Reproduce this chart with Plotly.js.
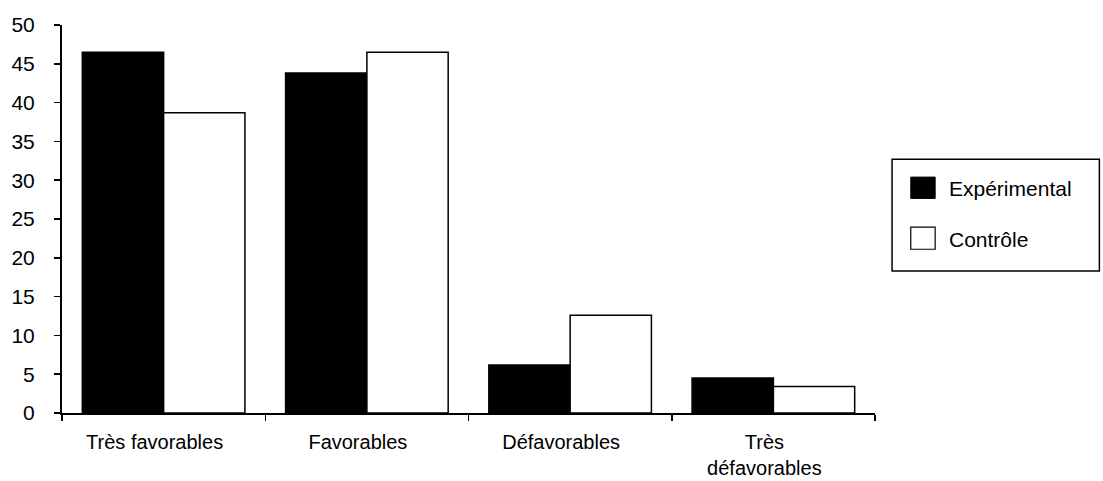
<!DOCTYPE html>
<html>
<head>
<meta charset="utf-8">
<script src="https://cdn.plot.ly/plotly-3.0.1.min.js"></script>
<style>html,body{margin:0;padding:0;background:#fff;}#chart{width:1103px;height:481px;}</style>
</head>
<body>
<div id="chart"></div>
<script>
const categories = ["Très favorables", "Favorables", "Défavorables", "Très<br>défavorables"];
const experimental = [46.5, 43.8, 6.2, 4.5];
const controle = [38.7, 46.5, 12.6, 3.4];
const seriesNames = ["Expérimental", "Contrôle"];
const yTicks = [0, 5, 10, 15, 20, 25, 30, 35, 40, 45, 50];

const FONT = "Liberation Sans, Arial, Helvetica, sans-serif";

const traces = [
  {type: "bar", name: seriesNames[0], x: categories, y: experimental,
   marker: {color: "#000", line: {color: "#000", width: 1.5}}, showlegend: false, hoverinfo: "x+y"},
  {type: "bar", name: seriesNames[1], x: categories, y: controle,
   marker: {color: "#fff", line: {color: "#000", width: 1.5}}, showlegend: false, hoverinfo: "x+y"}
];

const layout = {
  width: 1103, height: 481,
  margin: {l: 62, r: 228, t: 25, b: 68.3},
  paper_bgcolor: "#fff", plot_bgcolor: "#fff",
  barmode: "group", bargap: 0.2, bargroupgap: 0,
  font: {family: FONT, color: "#000", size: 21},
  showlegend: false,
  xaxis: {
    type: "category", categoryorder: "array", categoryarray: categories,
    range: [-0.5, 3.5], tickson: "boundaries",
    ticks: "outside", ticklen: 6, tickwidth: 1.5, tickcolor: "#000",
    showline: true, linecolor: "#000", linewidth: 2,
    showgrid: false, zeroline: false,
    tickfont: {size: 20, family: FONT, color: "#000"},
    ticklabelstandoff: 10, ticklabelshift: -9
  },
  yaxis: {
    range: [0, 50], tickvals: yTicks,
    ticks: "outside", ticklen: 6, tickwidth: 1.5, tickcolor: "#000",
    showline: true, linecolor: "#000", linewidth: 2,
    showgrid: false, zeroline: false,
    tickfont: {size: 21, family: FONT, color: "#000"},
    ticklabelstandoff: 15
  },
  xaxis2: {
    overlaying: "x", anchor: "y", range: [-0.5, 3.5],
    tickvals: [-0.5, 0.5, 1.5, 2.5, 3.5], ticks: "inside", ticklen: 5, tickwidth: 1.5,
    tickcolor: "#000", showticklabels: false, showgrid: false, zeroline: false, showline: false
  },
  yaxis2: {
    overlaying: "y", anchor: "x", range: [0, 50], tickvals: yTicks,
    ticks: "inside", ticklen: 5, tickwidth: 1.5, tickcolor: "#000",
    showticklabels: false, showgrid: false, zeroline: false, showline: false
  },
  shapes: [
    {type: "rect", xref: "paper", yref: "paper", x0: 1.021, x1: 1.276, y0: 0.366, y1: 0.654,
     line: {color: "#000", width: 1.5}, fillcolor: "#fff"},
    {type: "rect", xref: "paper", yref: "paper", x0: 1.044, x1: 1.074, y0: 0.553, y1: 0.608,
     line: {color: "#000", width: 1}, fillcolor: "#000"},
    {type: "rect", xref: "paper", yref: "paper", x0: 1.044, x1: 1.074, y0: 0.422, y1: 0.479,
     line: {color: "#000", width: 1.2}, fillcolor: "#fff"}
  ],
  annotations: [
    {xref: "paper", yref: "paper", x: 1.088, y: 0.578, xanchor: "left", yanchor: "middle",
     text: seriesNames[0], showarrow: false, font: {size: 21, family: FONT, color: "#000"}},
    {xref: "paper", yref: "paper", x: 1.088, y: 0.448, xanchor: "left", yanchor: "middle",
     text: seriesNames[1], showarrow: false, font: {size: 21, family: FONT, color: "#000"}}
  ]
};

Plotly.newPlot("chart", traces, layout, {displayModeBar: false, staticPlot: true});
</script>
</body>
</html>
